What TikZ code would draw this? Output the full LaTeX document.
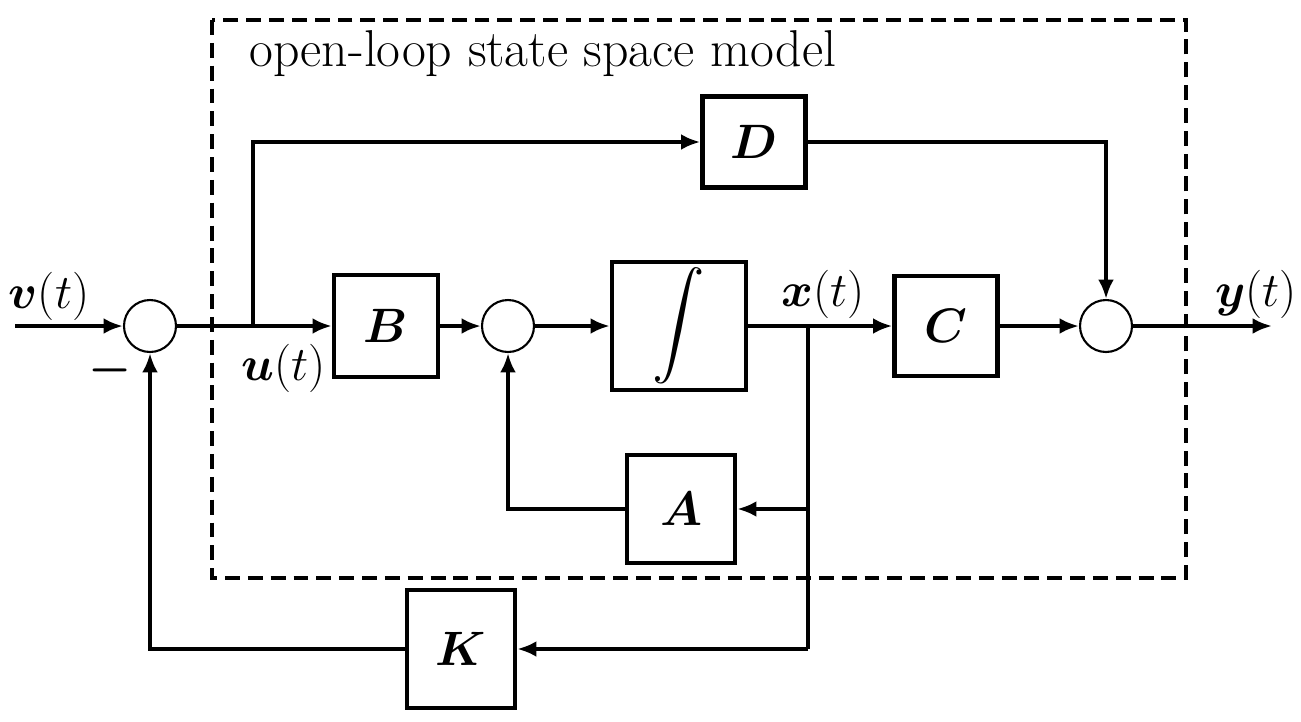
\RequirePackage{fix-cm}
\documentclass[tikz,border=0pt]{standalone}
\usepackage{amsmath,bm,graphicx}
\usetikzlibrary{arrows.meta}
\begin{document}
\begin{tikzpicture}[x=0.02cm,y=-0.02cm,
  every node/.style={font=\fontsize{27.5}{32}\selectfont},
  blk/.style={draw,line width=2.4pt,inner sep=0pt},
  sumc/.style={draw,circle,line width=1.2pt,minimum size=1.04cm,inner sep=0pt},
  sig/.style={line width=2.2pt},
  arr/.style={sig,-{Latex[length=11pt,width=9pt]}},
  frame/.style={line width=2.2pt,dash pattern=on 8.5pt off 4.5pt}]
\useasboundingbox (0,0) rectangle (1301,721);
\fill[white] (0,0) rectangle (1301,721);
% frame
\draw[frame] (212,20) rectangle (1186,578);
\node[anchor=west,font=\fontsize{29.5}{34}\selectfont] (title) at (243,54) {open-loop state space model};
% blocks
\node[blk,minimum width=2.06cm,minimum height=1.82cm] (D) at (754,142) {$\bm{D}$};
\node[blk,minimum width=2.08cm,minimum height=2.04cm] (B) at (386,326) {$\bm{B}$};
\node[blk,minimum width=2.68cm,minimum height=2.56cm] (I) at (679,326) {\raisebox{5pt}{\scalebox{1.2}{$\displaystyle\int$}}};
\node[blk,minimum width=2.06cm,minimum height=2.0cm] (C) at (946,326) {$\bm{C}$};
\node[blk,minimum width=2.16cm,minimum height=2.16cm] (A) at (681,509) {$\bm{A}$};
\node[blk,minimum width=2.16cm,minimum height=2.36cm] (K) at (461,649) {$\bm{K}$};
% summing junctions
\node[sumc] (s1) at (150,326) {};
\node[sumc] (s2) at (508,326) {};
\node[sumc] (s3) at (1106,326) {};
% points
\coordinate (vin) at (15,326);
\coordinate (yout) at (1272,326);
\coordinate (br1) at (253,326);
\coordinate (br2) at (808,326);
% labels
\node (vl) at (49,296) {$\bm{v}(t)$};
\node (ul) at (284,368) {$\bm{u}(t)$};
\node (xl) at (823,294) {$\bm{x}(t)$};
\node (yl) at (1256,294) {$\bm{y}(t)$};
\node (minus) at (110,370) {$\bm{-}$};
% connectors
\draw[arr] (vin) -- (s1.west);
\draw[arr] (s1.east) -- (B.west);
\draw[arr] (br1) |- (D.west);
\draw[arr] (B.east) -- (s2.west);
\draw[arr] (s2.east) -- (I.west);
\draw[arr] (I.east) -- (C.west);
\draw[arr] (C.east) -- (s3.west);
\draw[arr] (D.east) -| (s3.north);
\draw[arr] (s3.east) -- (yout);
\draw[sig] (br2) -- (br2 |- K.east);
\draw[arr] (br2 |- A.east) -- (A.east);
\draw[arr] (br2 |- K.east) -- (K.east);
\draw[arr] (A.west) -| (s2.south);
\draw[arr] (K.west) -| (s1.south);
\end{tikzpicture}
\end{document}
